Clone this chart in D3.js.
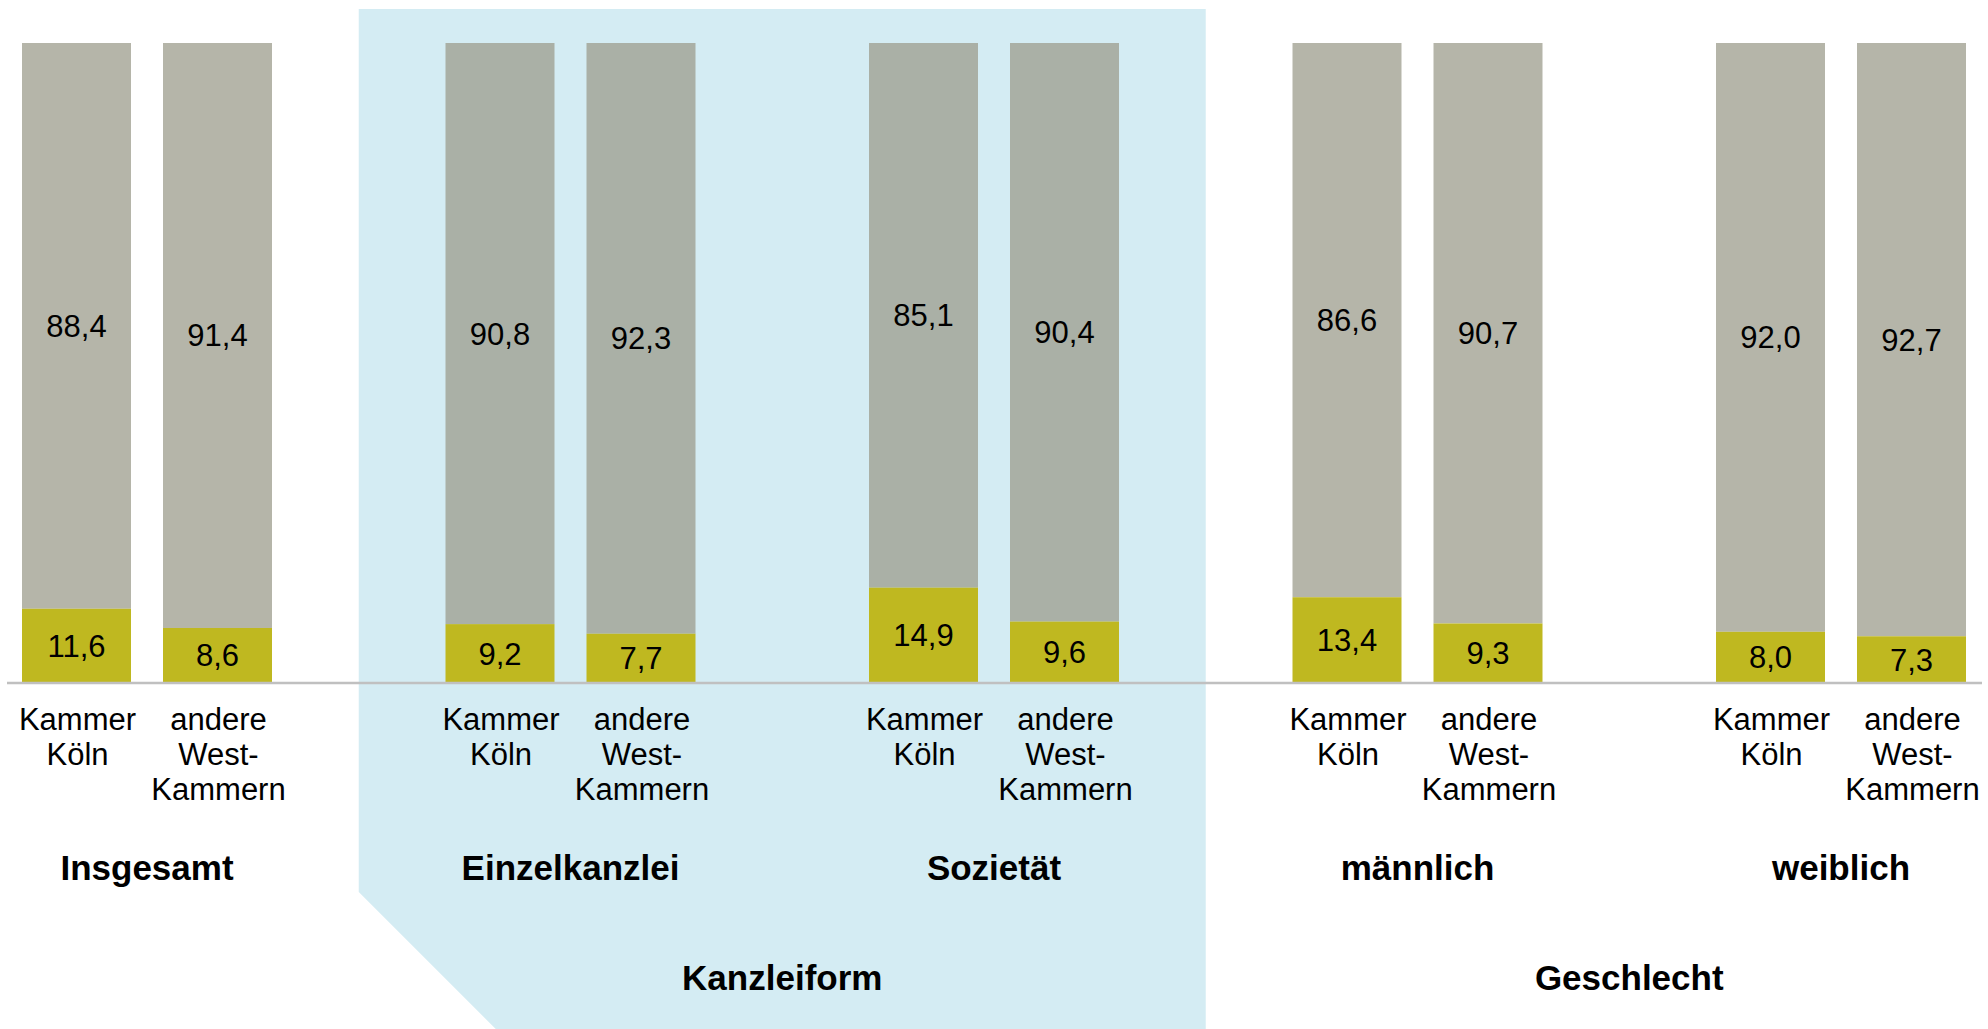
<!DOCTYPE html>
<html lang="de">
<head>
	<meta charset="UTF-8">
	<style>
	body {
		margin: 0;
		background: #ffffff;
	}
	svg text {
		font-family: "Liberation Sans", Arial, sans-serif;
		fill: #000000;
	}
	</style>
	<script src="https://d3js.org/d3.v7.min.js"></script>
	<title>Kammer Köln vs. andere West-Kammern</title>
</head>
<body>
	<div id="chart"></div>
	<script>
		// Data (percent)
		const groups = ["Insgesamt", "Einzelkanzlei", "Sozietät", "männlich", "weiblich"];
		const categories = ["Kammer Köln", "andere West-Kammern"];
		const categoryLines = [["Kammer", "Köln"], ["andere", "West-", "Kammern"]];
		const lowerValues = [[11.6, 8.6], [9.2, 7.7], [14.9, 9.6], [13.4, 9.3], [8.0, 7.3]];
		const upperValues = [[88.4, 91.4], [90.8, 92.3], [85.1, 90.4], [86.6, 90.7], [92.0, 92.7]];
		const superGroups = [
			{ label: "Kanzleiform", members: ["Einzelkanzlei", "Sozietät"], shaded: true },
			{ label: "Geschlecht", members: ["männlich", "weiblich"], shaded: false }
		];

		const width = 1988, height = 1029;
		const step = 423.5, groupWidth = 250;
		const firstBar = 22;
		const halfGap = (step - groupWidth) / 2;

		const svg = d3.select("#chart")
			.append("svg")
			.attr("width", width)
			.attr("height", height);

		// Group scale: each band is one pair of bars
		const x0 = d3.scaleBand()
			.domain(groups)
			.range([firstBar - halfGap, firstBar - halfGap + step * groups.length])
			.paddingInner((step - groupWidth) / step)
			.paddingOuter(halfGap / step);

		const x1 = d3.scaleBand()
			.domain(categories)
			.range([0, x0.bandwidth()])
			.paddingInner(32 / 141)
			.paddingOuter(0);

		const y = d3.scaleLinear([0, 100], [683, 43]);

		const fmt = d3.formatLocale({ decimal: ",", thousands: ".", grouping: [3], currency: ["", " €"] }).format(".1f");

		// span of a super group = half the gap on each side
		function span(members) {
			const left = x0(members[0]) - halfGap;
			const right = x0(members[members.length - 1]) + x0.bandwidth() + halfGap;
			return [left, right];
		}

		// Light blue background for "Kanzleiform"
		superGroups.filter(s => s.shaded).forEach(s => {
			const [l, r] = span(s.members);
			const cut = height - 892;
			svg.append("path")
				.attr("d", d3.line()([[l, 9], [r, 9], [r, height], [l + cut, height], [l, height - cut]]) + "Z")
				.attr("fill", "#d4ecf3");
		});

		// rows: one entry per bar
		const rows = [];
		groups.forEach((g, gi) => {
			categories.forEach((c, ci) => {
				rows.push({ group: g, cat: c, ci: ci, low: lowerValues[gi][ci], up: upperValues[gi][ci] });
			});
		});

		const bars = svg.append("g")
			.selectAll("g")
			.data(rows)
			.join("g")
			.attr("transform", d => "translate(" + (x0(d.group) + x1(d.cat)) + ",0)");

		// upper (grey) segment, semi transparent so it tints on blue
		bars.append("rect")
			.attr("x", 0)
			.attr("width", x1.bandwidth())
			.attr("y", d => y(d.low + d.up))
			.attr("height", d => y(d.low) - y(d.low + d.up))
			.attr("fill", "#9c9c8b")
			.attr("fill-opacity", 0.744);

		// lower (yellow) segment
		bars.append("rect")
			.attr("x", 0)
			.attr("width", x1.bandwidth())
			.attr("y", d => y(d.low))
			.attr("height", d => y(0) - y(d.low))
			.attr("fill", "#bfb820");

		bars.append("text")
			.attr("x", x1.bandwidth() / 2)
			.attr("y", d => (y(d.low + d.up) + y(d.low)) / 2 + 11)
			.attr("text-anchor", "middle")
			.attr("font-size", 31)
			.text(d => fmt(d.up));

		bars.append("text")
			.attr("x", x1.bandwidth() / 2)
			.attr("y", d => (y(d.low) + y(0)) / 2 + 11)
			.attr("text-anchor", "middle")
			.attr("font-size", 31)
			.text(d => fmt(d.low));

		// category labels under each bar
		bars.append("text")
			.attr("text-anchor", "middle")
			.attr("font-size", 31)
			.selectAll("tspan")
			.data(d => categoryLines[d.ci])
			.join("tspan")
			.attr("x", x1.bandwidth() / 2 + 1)
			.attr("y", (d, i) => 730 + i * 35)
			.text(d => d);

		// baseline
		svg.append("line")
			.attr("x1", 7)
			.attr("x2", 1982)
			.attr("y1", y(0))
			.attr("y2", y(0))
			.attr("stroke", "#c0c0c0")
			.attr("stroke-width", 2.5);

		// group labels
		svg.append("g")
			.selectAll("text")
			.data(groups)
			.join("text")
			.attr("x", d => x0(d) + x0.bandwidth() / 2)
			.attr("y", 880)
			.attr("text-anchor", "middle")
			.attr("font-size", 35)
			.attr("font-weight", "bold")
			.text(d => d);

		// super group labels
		svg.append("g")
			.selectAll("text")
			.data(superGroups)
			.join("text")
			.attr("x", d => d3.mean(span(d.members)))
			.attr("y", 990)
			.attr("text-anchor", "middle")
			.attr("font-size", 35)
			.attr("font-weight", "bold")
			.text(d => d.label);
	</script>
</body>
</html>
